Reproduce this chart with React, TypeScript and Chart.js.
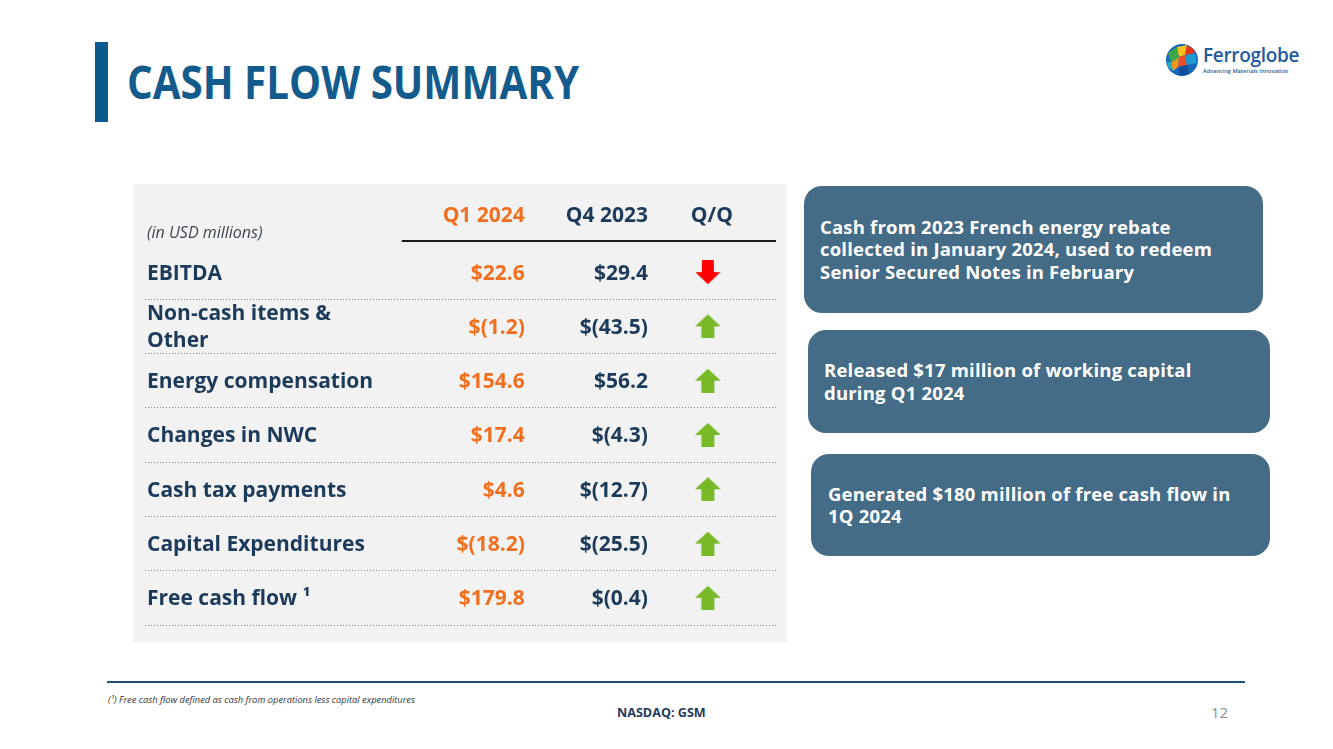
import React, { useEffect, useRef } from "react";
import { Chart, registerables } from "chart.js";

Chart.register(...registerables);

// ---------- DATA ----------
const rowLabels = [
  "EBITDA",
  "Non-cash items &\nOther",
  "Energy compensation",
  "Changes in NWC",
  "Cash tax payments",
  "Capital Expenditures",
  "Free cash flow ¹",
];
const q1_2024 = [22.6, -1.2, 154.6, 17.4, 4.6, -18.2, 179.8];
const q4_2023 = [29.4, -43.5, 56.2, -4.3, -12.7, -25.5, -0.4];
const columnHeaders = ["Q1 2024", "Q4 2023", "Q/Q"];
const unitsNote = "(in USD millions)";
const calloutTexts = [
  "Cash from 2023 French energy rebate\ncollected in January 2024, used to redeem\nSenior Secured Notes in February",
  "Released $17 million of working capital\nduring Q1 2024",
  "Generated $180 million of free cash flow in\n1Q 2024",
];
const titleText = "CASH FLOW SUMMARY";
const footnoteText = "(¹) Free cash flow defined as cash from operations less capital expenditures";
const tickerText = "NASDAQ: GSM";
const pageNumber = "12";

// ---------- LAYOUT / STYLE ----------
const COL_Q1 = 60.2; // right edge of Q1 column (x-scale units 0..100)
const COL_Q4 = 79.7; // right edge of Q4 column
const COL_QQ = 89.2; // centre of Q/Q column
const RULE_START = 40.7;
const FONT = '"Open Sans", "DejaVu Sans", sans-serif';
const NAVY = "#1c3a5a";
const ORANGE = "#f07020";
const GREEN = "#78b928";
const RED = "#ff0000";
const CALLOUT_BG = "#446c87";

function fmt(v: number): string {
  const s = Math.abs(v).toFixed(1);
  return v < 0 ? `$(${s})` : `$${s}`;
}

function makeArrow(up: boolean, color: string): HTMLCanvasElement {
  const c = document.createElement("canvas");
  c.width = 26;
  c.height = 24;
  const g = c.getContext("2d")!;
  g.fillStyle = color;
  g.beginPath();
  if (up) {
    g.moveTo(13, 0);
    g.lineTo(26, 12);
    g.lineTo(19.5, 12);
    g.lineTo(19.5, 24);
    g.lineTo(6.5, 24);
    g.lineTo(6.5, 12);
    g.lineTo(0, 12);
  } else {
    g.moveTo(13, 24);
    g.lineTo(25.5, 12);
    g.lineTo(19, 12);
    g.lineTo(19, 0);
    g.lineTo(7, 0);
    g.lineTo(7, 12);
    g.lineTo(0.5, 12);
  }
  g.closePath();
  g.fill();
  return c;
}

const tablePlugin = {
  id: "tableText",
  afterDatasetsDraw(chart: any) {
    const { ctx, chartArea, scales } = chart;
    const x = scales.x;
    const y = scales.y;
    const F = 21;
    const cap = 0.357 * F;
    ctx.save();
    // header
    ctx.font = `bold ${F}px ${FONT}`;
    ctx.textBaseline = "alphabetic";
    const hy = 31 + cap;
    ctx.fillStyle = ORANGE;
    ctx.textAlign = "right";
    ctx.fillText(columnHeaders[0], x.getPixelForValue(COL_Q1), hy);
    ctx.fillStyle = NAVY;
    ctx.fillText(columnHeaders[1], x.getPixelForValue(COL_Q4), hy);
    ctx.textAlign = "center";
    ctx.fillText(columnHeaders[2], x.getPixelForValue(COL_QQ) + 4, hy);
    ctx.font = `italic 16px ${FONT}`;
    ctx.textAlign = "left";
    ctx.fillStyle = "#3c4652";
    ctx.fillText(unitsNote, chartArea.left + 2, 48 + 0.357 * 16);
    // header rule
    ctx.strokeStyle = "#1a1a1a";
    ctx.lineWidth = 2;
    ctx.beginPath();
    ctx.moveTo(x.getPixelForValue(RULE_START), 57);
    ctx.lineTo(x.getPixelForValue(100), 57);
    ctx.stroke();
    // rows
    rowLabels.forEach((label, i) => {
      const cy = y.getPixelForValue(i);
      ctx.font = `bold ${F}px ${FONT}`;
      ctx.fillStyle = NAVY;
      ctx.textAlign = "left";
      const lines = label.split("\n");
      const lh = 27;
      lines.forEach((ln, k) => {
        const ly = cy + (k - (lines.length - 1) / 2) * lh + cap;
        ctx.fillText(ln, chartArea.left + 2, ly);
      });
      ctx.textAlign = "right";
      ctx.fillStyle = ORANGE;
      ctx.fillText(fmt(q1_2024[i]), x.getPixelForValue(COL_Q1), cy + cap);
      ctx.fillStyle = NAVY;
      ctx.fillText(fmt(q4_2023[i]), x.getPixelForValue(COL_Q4), cy + cap);
    });
    ctx.restore();
  },
};

function TableChart() {
  const ref = useRef<HTMLCanvasElement>(null);
  useEffect(() => {
    if (!ref.current) return;
    const upArrow = makeArrow(true, GREEN);
    const downArrow = makeArrow(false, RED);
    const points = rowLabels.map((_, i) => ({ x: COL_QQ, y: i }));
    const styles = rowLabels.map((_, i) => (q1_2024[i] >= q4_2023[i] ? upArrow : downArrow));
    const chart = new Chart(ref.current, {
      type: "scatter",
      data: {
        datasets: [
          {
            data: points as any,
            pointStyle: styles as any,
            pointRadius: 5,
            showLine: false,
          },
        ],
      },
      options: {
        responsive: false,
        animation: false,
        devicePixelRatio: 1,
        layout: { padding: { left: 12, right: 11, top: 61, bottom: 17 } },
        plugins: { legend: { display: false }, tooltip: { enabled: false } },
        scales: {
          x: { type: "linear", min: 0, max: 100, display: false },
          y: {
            type: "category",
            labels: rowLabels,
            offset: true,
            grid: {
              offset: true,
              drawTicks: false,
              lineWidth: 1,
              color: (ctx: any) => (ctx.index === 0 ? "rgba(0,0,0,0)" : "#808080"),
            },
            border: { display: false, dash: [1, 2] },
            ticks: { display: false },
          },
        },
      } as any,
      plugins: [tablePlugin],
    });
    return () => chart.destroy();
  }, []);
  return <canvas ref={ref} width={654} height={458} style={{ display: "block" }} />;
}

function Logo() {
  return (
    <div style={{ position: "absolute", left: 1165, top: 42, width: 135, height: 36 }}>
      <svg width="34" height="34" viewBox="0 0 34 34" style={{ position: "absolute", left: 0, top: 1 }}>
        <circle cx="17" cy="17" r="16" fill="#1565b8" />
        <polygon points="3,10 12,4 14,14 6,20" fill="#3aa84a" />
        <polygon points="12,4 22,2 20,12 14,14" fill="#f4c21f" />
        <polygon points="14,14 20,12 22,22 13,24" fill="#ee4b2b" />
        <polygon points="6,20 14,14 13,24 8,28" fill="#f39a1e" />
        <polygon points="20,12 30,10 32,20 22,22" fill="#1d9bd1" />
        <polygon points="13,24 22,22 24,31 15,33" fill="#0e4f9c" />
        <polygon points="2,18 6,20 8,28 3,24" fill="#2bb0c9" />
        <polygon points="22,2 28,6 30,10 20,12" fill="#e8361f" />
      </svg>
      <div style={{ position: "absolute", left: 38, top: 2, fontFamily: FONT, fontWeight: 600, fontSize: 19, lineHeight: "22px", color: "#1f5a9e", letterSpacing: -0.3 }}>
        Ferroglobe
      </div>
      <div style={{ position: "absolute", left: 38, top: 26, fontFamily: FONT, fontWeight: 600, fontSize: 5.6, lineHeight: "7px", color: "#2a5d9a", whiteSpace: "nowrap" }}>
        Advancing Materials Innovation
      </div>
    </div>
  );
}

const calloutBoxes = [
  { left: 804, top: 186, width: 459, height: 127, pad: 16 },
  { left: 808, top: 330, width: 462, height: 103, pad: 16 },
  { left: 811, top: 454, width: 459, height: 102, pad: 17 },
];

export default function App() {
  return (
    <div style={{ position: "absolute", left: 0, top: 0, width: 1333, height: 749, background: "#fff", overflow: "hidden", fontFamily: FONT }}>
      <div style={{ position: "absolute", left: 95, top: 42, width: 13, height: 80, background: "#0b5a8e" }} />
      <div style={{ position: "absolute", left: 127, top: 58, fontSize: 46, lineHeight: "46px", fontWeight: 700, color: "#135b8d", whiteSpace: "nowrap", transform: "scaleX(0.877)", transformOrigin: "0 0" }}>
        {titleText}
      </div>
      <Logo />
      <div style={{ position: "absolute", left: 133, top: 184, width: 654, height: 458, background: "#f2f2f2" }}>
        <TableChart />
      </div>
      {calloutBoxes.map((b, i) => (
        <div key={i} style={{ position: "absolute", left: b.left, top: b.top, width: b.width, height: b.height, background: CALLOUT_BG, borderRadius: 18, display: "flex", alignItems: "center", boxSizing: "border-box", paddingLeft: b.pad, paddingRight: 10 }}>
          <div style={{ color: "#fff", fontWeight: 700, fontSize: 18.5, lineHeight: "22.5px", whiteSpace: "pre", letterSpacing: 0.2 }}>{calloutTexts[i]}</div>
        </div>
      ))}
      <div style={{ position: "absolute", left: 107, top: 681, width: 1138, height: 2, background: "#1f4e79" }} />
      <div style={{ position: "absolute", left: 108, top: 694, fontSize: 9.3, lineHeight: "12px", fontStyle: "italic", color: "#333", whiteSpace: "nowrap" }}>
        {footnoteText}
      </div>
      <div style={{ position: "absolute", left: 617, top: 705, fontSize: 12.6, lineHeight: "16px", fontWeight: 700, color: "#1f3b5c", whiteSpace: "nowrap" }}>
        {tickerText}
      </div>
      <div style={{ position: "absolute", left: 1211, top: 702, fontSize: 15, lineHeight: "20px", color: "#8a8f99", whiteSpace: "nowrap" }}>
        {pageNumber}
      </div>
    </div>
  );
}
